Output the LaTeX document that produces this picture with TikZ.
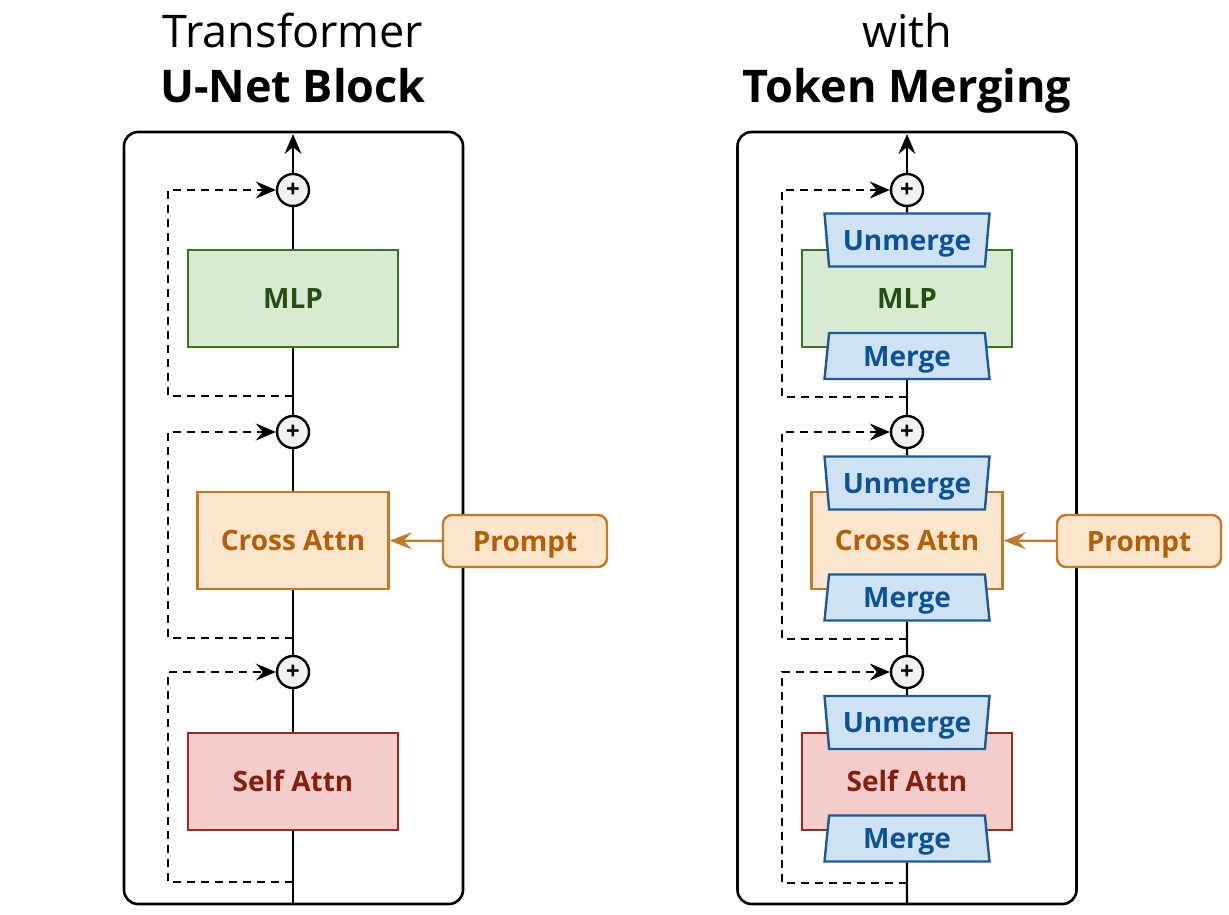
\documentclass[tikz,border=0pt]{standalone}
\usepackage{fontspec}
\setmainfont{Open Sans}
\usetikzlibrary{arrows.meta,shapes.geometric}
\definecolor{gfill}{HTML}{D9EAD3}\definecolor{gline}{HTML}{38761D}\definecolor{gtext}{HTML}{274E13}
\definecolor{ofill}{HTML}{FCE5CD}\definecolor{oline}{HTML}{C27A2A}\definecolor{otext}{HTML}{B45F06}
\definecolor{rfill}{HTML}{F4CCCC}\definecolor{rline}{HTML}{9E2A1B}\definecolor{rtext}{HTML}{85200C}
\definecolor{bfill}{HTML}{CFE2F3}\definecolor{bline}{HTML}{1C5A96}\definecolor{btext}{HTML}{0B5394}
\definecolor{pfill}{HTML}{F1F1F1}
\begin{document}
\begin{tikzpicture}[x=1pt,y=-1pt,line width=2.4pt,
  lbl/.style={font=\fontsize{28}{32}\selectfont\bfseries, text height=20pt, text depth=0pt},
  title/.style={font=\fontsize{45}{50}\selectfont, anchor=base},
  btitle/.style={font=\fontsize{45}{50}\selectfont\bfseries, anchor=base},
  panel/.style={draw=black, line width=2.6pt, rounded corners=14pt, minimum width=339pt, minimum height=772pt, inner sep=0pt},
  blk/.style={draw, lbl, inner sep=0pt, minimum height=97pt, minimum width=210pt},
  mlp/.style={blk, fill=gfill, draw=gline, text=gtext},
  cross/.style={blk, fill=ofill, draw=oline, text=otext, minimum width=191pt},
  self/.style={blk, fill=rfill, draw=rline, text=rtext},
  prompt/.style={draw=oline, fill=ofill, text=otext, lbl, rounded corners=9pt, minimum width=164pt, minimum height=52pt, inner sep=0pt},
  plus/.style={circle, draw=black, fill=pfill, minimum size=32pt, inner sep=0pt, font=\fontsize{24}{24}\selectfont\bfseries},
  trap/.style={trapezium, draw=bline, fill=bfill, text=btext, lbl, inner sep=0pt, trapezium angle=77, trapezium stretches body=true, minimum width=165pt},
  unm/.style={trap, shape border rotate=180, minimum height=53pt},
  mrg/.style={trap, minimum height=46pt},
  tip/.style={-{Stealth[length=20pt,width=17pt,inset=7pt]}},
  skip/.style={draw=black, dash pattern=on 8pt off 6pt, tip},
  main/.style={draw=black},
  parr/.style={draw=oline, -{Stealth[length=22pt,width=17pt,inset=8pt]}}
]
\useasboundingbox (0,0) rectangle (1229,915);
% titles
\node[title] (t1) at (293,48) {Transformer};
\node[btitle] (t2) at (293,103) {U-Net Block};
\node[title] (t3) at (907,48) {with};
\node[btitle] (t4) at (907,103) {Token Merging};
% panels
\node[panel] (L) at (293.5,518) {};
\node[panel] (R) at (907,518) {};
% ---------- left ----------
\coordinate (Ltop) at (293,134);
\coordinate (Lbot) at (293,904);
\node[mlp] (Lmlp) at (293,298.5) {MLP};
\node[cross] (Lcross) at (293,540.5) {Cross Attn};
\node[self] (Lself) at (293,781.5) {Self Attn};
\node[plus] (Lp1) at (293,190) {+};
\node[plus] (Lp2) at (293,432) {+};
\node[plus] (Lp3) at (293,672) {+};
\node[prompt] (Lprompt) at (525,541) {Prompt};
\coordinate (Ls1) at (293,396);
\coordinate (Ls2) at (293,638);
\coordinate (Ls3) at (293,882);
\draw[main] (Lbot) -- (Lself);
\draw[main] (Lself) -- (Lp3);
\draw[main] (Lp3) -- (Lcross);
\draw[main] (Lcross) -- (Lp2);
\draw[main] (Lp2) -- (Lmlp);
\draw[main] (Lmlp) -- (Lp1);
\draw[main,tip] (Lp1) -- (Ltop);
\draw[skip] (Ls1) -- (168,396) |- (Lp1);
\draw[skip] (Ls2) -- (168,638) |- (Lp2);
\draw[skip] (Ls3) -- (168,882) |- (Lp3);
\draw[parr] (Lprompt) -- (Lcross);
% ---------- right ----------
\coordinate (Rtop) at (907,134);
\coordinate (Rbot) at (907,904);
\node[mlp] (Rmlp) at (907,298.5) {MLP};
\node[cross] (Rcross) at (907,540.5) {Cross Attn};
\node[self] (Rself) at (907,781.5) {Self Attn};
\node[unm] (Ru1) at (907,240) {Unmerge};
\node[mrg] (Rm1) at (907,356) {Merge};
\node[unm] (Ru2) at (907,483) {Unmerge};
\node[mrg] (Rm2) at (907,597.5) {Merge};
\node[unm] (Ru3) at (907,722.5) {Unmerge};
\node[mrg] (Rm3) at (907,838.5) {Merge};
\node[plus] (Rp1) at (907,190) {+};
\node[plus] (Rp2) at (907,432) {+};
\node[plus] (Rp3) at (907,672) {+};
\node[prompt] (Rprompt) at (1139,541) {Prompt};
\coordinate (Rs1) at (907,397);
\coordinate (Rs2) at (907,639);
\coordinate (Rs3) at (907,883);
\draw[main] (Rbot) -- (Rm3);
\draw[main] (Ru3) -- (Rp3);
\draw[main] (Rp3) -- (Rm2);
\draw[main] (Ru2) -- (Rp2);
\draw[main] (Rp2) -- (Rm1);
\draw[main] (Ru1) -- (Rp1);
\draw[main,tip] (Rp1) -- (Rtop);
\draw[skip] (Rs1) -- (782,397) |- (Rp1);
\draw[skip] (Rs2) -- (782,639) |- (Rp2);
\draw[skip] (Rs3) -- (782,883) |- (Rp3);
\draw[parr] (Rprompt) -- (Rcross);
\end{tikzpicture}
\end{document}
